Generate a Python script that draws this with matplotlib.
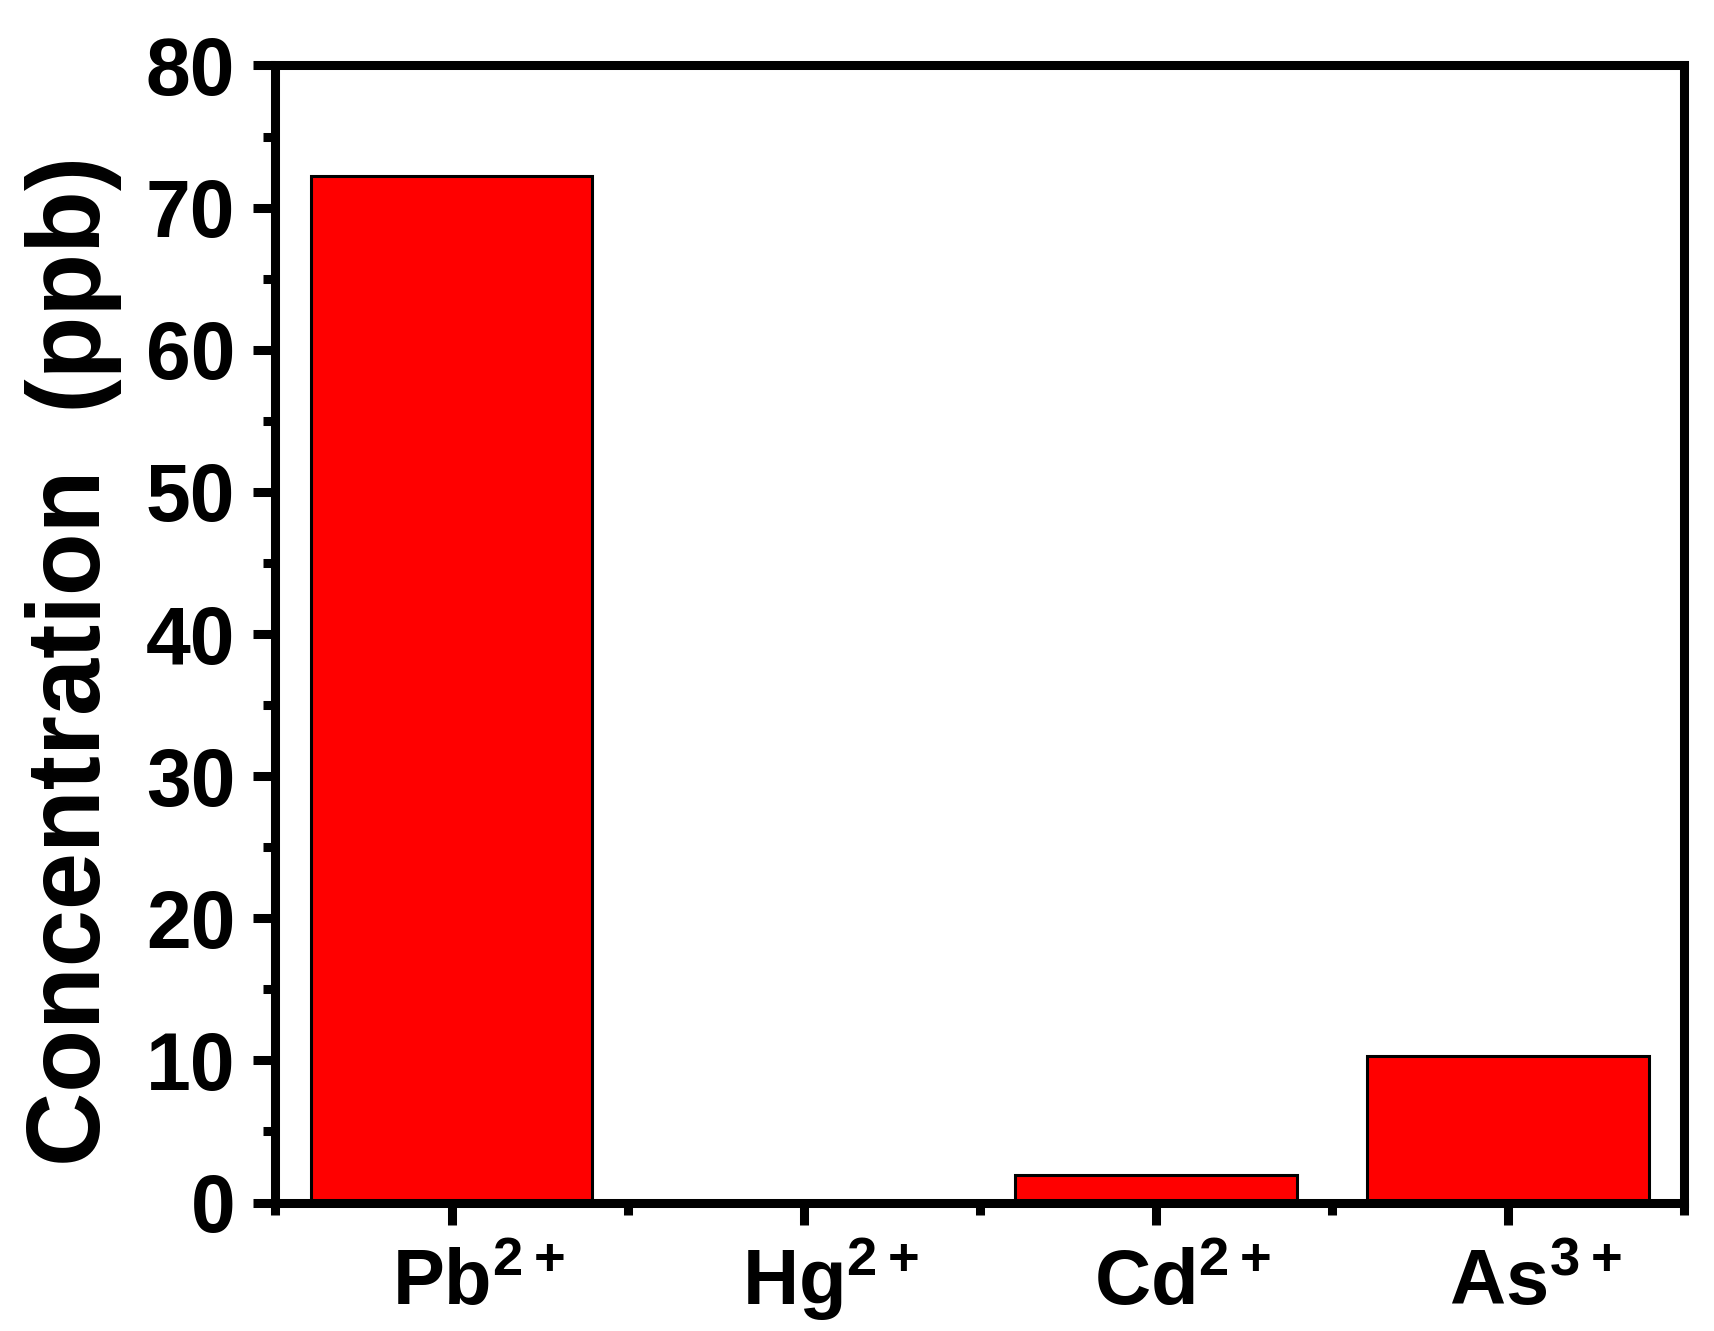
import matplotlib
matplotlib.use("Agg")
import matplotlib.pyplot as plt
import matplotlib.transforms as mtransforms
from matplotlib.ticker import MultipleLocator, FixedLocator

# data
ions = ["Pb$^{2+}$", "Hg$^{2+}$", "Cd$^{2+}$", "As$^{3+}$"]
concentration = [72.2, 0.0, 1.95, 10.3]

plt.rcParams["font.family"] = ["Liberation Sans", "DejaVu Sans"]
plt.rcParams["font.weight"] = "bold"
plt.rcParams["mathtext.default"] = "regular"

fig = plt.figure(figsize=(17.15, 13.31), dpi=100)
ax = fig.add_axes([0.1606, 0.0965, 0.8216, 0.8543])

pos = list(range(1, len(ions) + 1))
ax.bar(pos, concentration, width=0.8, color="#FF0000", edgecolor="black", linewidth=2.2, zorder=2)

ax.set_xlim(0.5, 4.5)
ax.set_ylim(0, 80)

ax.set_xticks(pos)
ax.set_xticklabels(ions, fontsize=56, fontweight="bold")
ax.xaxis.set_minor_locator(FixedLocator([0.5, 1.5, 2.5, 3.5, 4.5]))
ax.yaxis.set_major_locator(MultipleLocator(10))
ax.yaxis.set_minor_locator(MultipleLocator(5))
for lbl in ax.get_yticklabels():
    lbl.set_fontsize(58)
    lbl.set_fontweight("bold")

for sp in ax.spines.values():
    sp.set_linewidth(6.5)
    sp.set_zorder(3)

ax.tick_params(axis="both", which="major", direction="out", length=16, width=6.5, top=False, right=False)
ax.tick_params(axis="both", which="minor", direction="out", length=8.3, width=6.5, top=False, right=False)
ax.tick_params(axis="y", which="major", pad=13)
ax.tick_params(axis="x", which="major", pad=58)

# same baseline for every ion, superscript hangs to the right of the tick
shift = mtransforms.ScaledTranslation(0.27, 0, fig.dpi_scale_trans)
for lbl in ax.get_xticklabels():
    lbl.set_verticalalignment("baseline")
    lbl.set_transform(lbl.get_transform() + shift)

fig.text(0.043, 0.5034, "Concentration  (ppb)", rotation=90, ha="center", va="center",
         fontsize=74, fontweight="bold")

fig.savefig("out.png", dpi=100)
